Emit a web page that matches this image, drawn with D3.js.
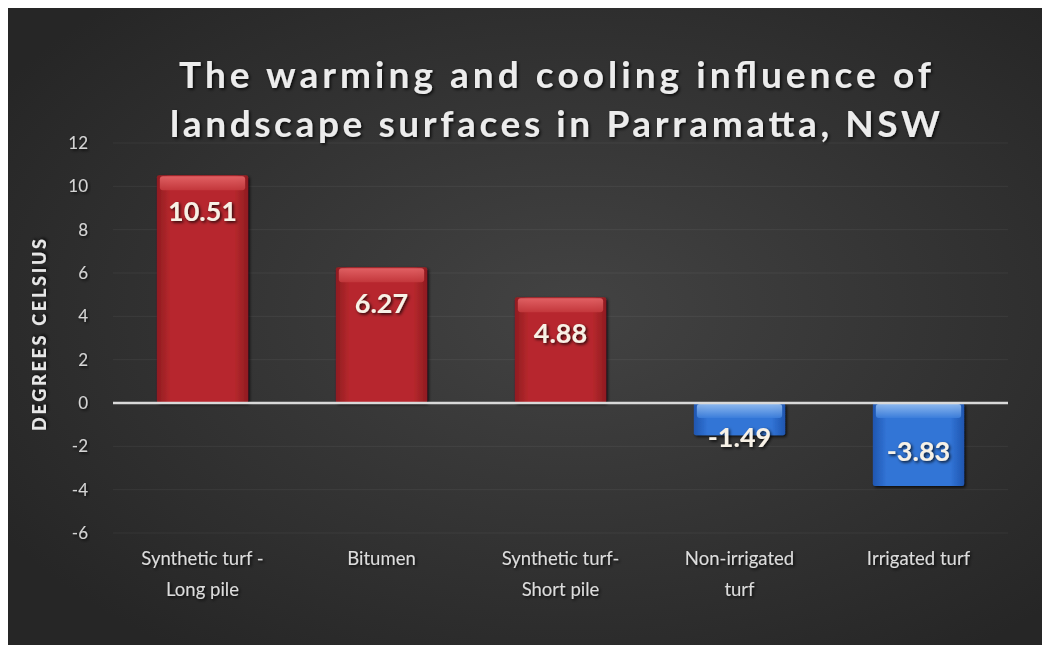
<!DOCTYPE html>
<html><head><meta charset="utf-8">
<script src="https://cdn.jsdelivr.net/npm/d3@7"></script>
<style>html,body{margin:0;padding:0;background:#262626;overflow:hidden}svg{display:block;position:absolute;left:0;top:0}</style>
</head><body><svg id="c" width="1042" height="645"></svg>
<script>
const categories = [["Synthetic turf -","Long pile"],["Bitumen"],["Synthetic turf-","Short pile"],["Non-irrigated","turf"],["Irrigated turf"]];
const values = [10.51, 6.27, 4.88, -1.49, -3.83];
const yTicks = [12,10,8,6,4,2,0,-2,-4,-6];
const titleLines = ["The warming and cooling influence of","landscape surfaces in Parramatta, NSW"];
const yTitle = "DEGREES CELSIUS";

const svg = d3.select("#c");
const defs = svg.append("defs");
const bg = defs.append("radialGradient").attr("id","bg").attr("cx","55%").attr("cy","48%").attr("r","65%");
bg.append("stop").attr("offset","0%").attr("stop-color","#434343");
bg.append("stop").attr("offset","100%").attr("stop-color","#262626");
function barGrad(id, edge, mid){
  const g = defs.append("linearGradient").attr("id",id).attr("x1","0").attr("x2","1").attr("y1","0").attr("y2","0");
  g.append("stop").attr("offset","0%").attr("stop-color",edge);
  g.append("stop").attr("offset","15%").attr("stop-color",mid);
  g.append("stop").attr("offset","85%").attr("stop-color",mid);
  g.append("stop").attr("offset","100%").attr("stop-color",edge);
}
barGrad("red","#8f1c20","#b7282d");
barGrad("blue","#1f56b0","#3274d6");
function bevel(id, c1, c2){
  const g = defs.append("linearGradient").attr("id",id).attr("x1","0").attr("x2","0").attr("y1","0").attr("y2","1");
  g.append("stop").attr("offset","0%").attr("stop-color",c1);
  g.append("stop").attr("offset","100%").attr("stop-color",c2);
}
bevel("redTop","#e86a6c","#c53a3e");
bevel("blueTop","#9cc3f2","#3d7fdc");
const sh = defs.append("filter").attr("id","sh").attr("x","-10%").attr("y","-10%").attr("width","120%").attr("height","130%");
sh.append("feDropShadow").attr("dx",1.5).attr("dy",1.5).attr("stdDeviation",1.5).attr("flood-color","#000").attr("flood-opacity",0.8);

svg.append("rect").attr("x",0).attr("y",0).attr("width",1042).attr("height",645).attr("fill","url(#bg)");
svg.append("rect").attr("x",0).attr("y",0).attr("width",8).attr("height",645).attr("fill","#fff");
svg.append("rect").attr("x",0).attr("y",0).attr("width",1042).attr("height",8).attr("fill","#fff");

const x = d3.scaleBand().domain(d3.range(values.length)).range([113,1008]).paddingInner(0.49).paddingOuter(0.245);
const y = d3.scaleLinear().domain([-6,12]).range([533,143]);

// gridlines
svg.append("g").selectAll("line").data(yTicks).join("line")
  .attr("x1",113).attr("x2",1008).attr("y1",d=>y(d)).attr("y2",d=>y(d))
  .attr("stroke","rgba(255,255,255,0.06)").attr("stroke-width",1);

// y axis
const yAxis = d3.axisLeft(y).tickValues(yTicks).tickSize(0).tickPadding(0).tickFormat(d=>String(d));
const ya = svg.append("g").attr("transform","translate(88,0)").call(yAxis);
ya.select(".domain").remove();
ya.selectAll("text").attr("font-family","Lato, 'Open Sans', sans-serif").attr("font-size",17)
  .attr("fill","#d4d4d4").attr("filter","url(#sh)");

// bars
const bars = svg.append("g").selectAll("g").data(values).join("g");
bars.append("rect")
  .attr("x",(d,i)=>x(i)).attr("width",x.bandwidth())
  .attr("y",d=>y(Math.max(0,d))).attr("height",d=>Math.abs(y(d)-y(0)))
  .attr("rx",2)
  .attr("fill",d=>d>=0?"url(#red)":"url(#blue)")
  .attr("filter","url(#sh)");
bars.append("rect")
  .attr("x",(d,i)=>x(i)+3).attr("width",x.bandwidth()-6)
  .attr("y",d=>y(Math.max(0,d))+1).attr("height",d=>Math.min(14, Math.abs(y(d)-y(0))-4))
  .attr("rx",3)
  .attr("fill",d=>d>=0?"url(#redTop)":"url(#blueTop)").attr("opacity",0.85);

// zero line
svg.append("line").attr("x1",113).attr("x2",1008).attr("y1",y(0)).attr("y2",y(0))
  .attr("stroke","#d9d9d9").attr("stroke-width",2.5);

// data labels
svg.append("g").selectAll("text").data(values).join("text")
  .attr("x",(d,i)=>x(i)+x.bandwidth()/2)
  .attr("y",d=> d>=0 ? y(d)+36 : Math.max(y(d)-34, y(0)+35))
  .attr("dy","0.35em").attr("text-anchor","middle")
  .attr("font-family","Lato, 'Open Sans', sans-serif").attr("font-weight","bold").attr("font-size",27)
  .attr("fill","#f7f1e6").attr("filter","url(#sh)")
  .text(d=>d.toFixed(2));

// category labels
const cl = svg.append("g").selectAll("text").data(categories).join("text")
  .attr("x",(d,i)=>x(i)+x.bandwidth()/2).attr("y",565)
  .attr("text-anchor","middle")
  .attr("font-family","Lato, 'Open Sans', sans-serif").attr("font-size",18.5)
  .attr("fill","#dcdcdc").attr("filter","url(#sh)");
cl.selectAll("tspan").data(d=>d).join("tspan")
  .attr("x",function(){return this.parentNode.getAttribute("x");})
  .attr("dy",(d,j)=>j===0?0:31).text(d=>d);

// y title
svg.append("text").attr("transform","translate(46,335) rotate(-90)")
  .attr("text-anchor","middle")
  .attr("font-family","Lato, 'Open Sans', sans-serif").attr("font-weight","900").attr("font-size",18)
  .attr("fill","#e6e6e6").attr("filter","url(#sh)")
  .attr("textLength",192).attr("lengthAdjust","spacing")
  .text(yTitle);

// title
svg.append("g").selectAll("text").data(titleLines).join("text")
  .attr("x",555).attr("y",(d,i)=>88+i*49)
  .attr("text-anchor","middle")
  .attr("font-family","Lato, 'Open Sans', sans-serif").attr("font-weight","bold").attr("font-size",37)
  .attr("fill","#ececec").attr("filter","url(#sh)")
  .attr("textLength",(d,i)=>i===0?752:770).attr("lengthAdjust","spacing")
  .text(d=>d);
</script></body></html>
